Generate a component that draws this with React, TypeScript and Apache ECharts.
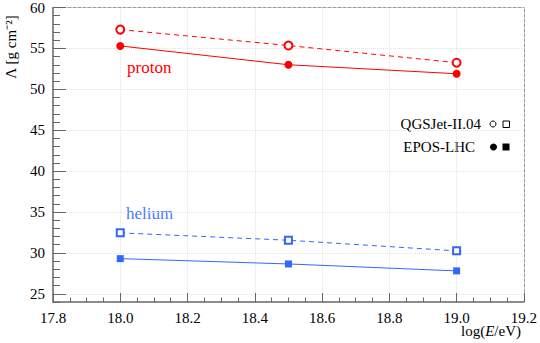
import React, { useEffect, useRef } from 'react';
import * as echarts from 'echarts';

const energies = [18.0, 18.5, 19.0];
const protonQGSJet = [57.3, 55.35, 53.25];
const protonEPOS = [55.3, 53.0, 51.9];
const heliumQGSJet = [32.45, 31.55, 30.25];
const heliumEPOS = [29.3, 28.65, 27.8];
const yMajorTicks = [25, 30, 35, 40, 45, 50, 55, 60];

const RED = '#ff0000';
const BLUE = '#3366ff';
const AXIS = '#666666';
const FRAME = '#999999';
const GRID = '#e2e2e2';
const FONT = 'Liberation Serif';

function pairs(ys: number[]) {
  return energies.map((x, i) => [x, ys[i]]);
}

export default function App() {
  const ref = useRef<HTMLDivElement>(null);
  useEffect(() => {
    if (!ref.current) return;
    const chart = echarts.init(ref.current, undefined, { renderer: 'svg' });
    const openSeries = (name: string, ys: number[], color: string, symbol: string, size: number) => ({
      name,
      type: 'line',
      data: pairs(ys),
      xAxisIndex: 0,
      yAxisIndex: 0,
      symbol,
      symbolSize: size,
      showAllSymbol: true,
      itemStyle: { color: '#ffffff', borderColor: color, borderWidth: 2 },
      lineStyle: { color, width: 1, type: [5, 4] },
      z: 3,
    });
    const filledSeries = (name: string, ys: number[], color: string, symbol: string, size: number) => ({
      name,
      type: 'line',
      data: pairs(ys),
      xAxisIndex: 0,
      yAxisIndex: 0,
      symbol,
      symbolSize: size,
      showAllSymbol: true,
      itemStyle: { color, borderWidth: 0 },
      lineStyle: { color, width: 1, type: 'solid' },
      z: 3,
    });
    const txt = (text: string, x: number, y: number, fill: string, size: number, align: string) => ({
      type: 'text',
      x,
      y,
      style: { text, fill, fontFamily: FONT, fontSize: size, align, verticalAlign: 'middle' },
    });
    chart.setOption({
      animation: false,
      backgroundColor: '#ffffff',
      textStyle: { fontFamily: FONT },
      grid: { left: 53, right: 13, top: 5, bottom: 41, containLabel: false },
      xAxis: [
        {
          type: 'value',
          position: 'bottom',
          min: 17.8,
          max: 19.2,
          interval: 0.2,
          axisLine: { show: true, onZero: false, lineStyle: { color: AXIS, width: 1.5 } },
          axisTick: { show: true, inside: true, length: 9, lineStyle: { color: AXIS, width: 1 } },
          minorTick: { show: true, splitNumber: 4, length: 4.5, lineStyle: { color: AXIS, width: 1 } },
          axisLabel: {
            show: true,
            margin: 8,
            color: '#000',
            fontFamily: FONT,
            fontSize: 15,
            formatter: (v: number) => v.toFixed(1),
          },
          splitLine: { show: true, lineStyle: { color: GRID, type: 'dotted', width: 1 } },
        },
        {
          type: 'value',
          position: 'top',
          min: 17.8,
          max: 19.2,
          axisLine: { show: true, onZero: false, lineStyle: { color: FRAME, width: 1, type: [3, 2] } },
          axisTick: { show: false },
          axisLabel: { show: false },
          splitLine: { show: false },
        },
      ],
      yAxis: [
        {
          type: 'value',
          position: 'left',
          min: 24,
          max: 60,
          axisLine: { show: true, onZero: false, lineStyle: { color: AXIS, width: 1.5 } },
          axisTick: { show: true, inside: true, length: 13, customValues: yMajorTicks, lineStyle: { color: AXIS, width: 1 } },
          axisLabel: {
            show: true,
            customValues: yMajorTicks,
            margin: 8,
            color: '#000',
            fontFamily: FONT,
            fontSize: 15,
          },
          splitLine: { show: true, lineStyle: { color: GRID, type: 'dotted', width: 1 } },
        },
        {
          type: 'value',
          position: 'left',
          offset: 0,
          min: 24,
          max: 60,
          interval: 1,
          axisLine: { show: false, onZero: false },
          axisTick: { show: true, inside: true, length: 7, lineStyle: { color: AXIS, width: 1 } },
          axisLabel: { show: false },
          splitLine: { show: false },
        },
        {
          type: 'value',
          position: 'right',
          min: 24,
          max: 60,
          axisLine: { show: true, onZero: false, lineStyle: { color: FRAME, width: 1, type: [3, 2] } },
          axisTick: { show: false },
          axisLabel: { show: false },
          splitLine: { show: false },
        },
      ],
      series: [
        openSeries('proton QGSJet-II.04', protonQGSJet, RED, 'circle', 8),
        filledSeries('proton EPOS-LHC', protonEPOS, RED, 'circle', 8),
        openSeries('helium QGSJet-II.04', heliumQGSJet, BLUE, 'rect', 7),
        filledSeries('helium EPOS-LHC', heliumEPOS, BLUE, 'rect', 7),
      ],
      graphic: [
        txt('proton', 127, 67, RED, 17, 'left'),
        txt('helium', 126, 213, '#4a7bff', 17, 'left'),
        txt('QGSJet-II.04', 481, 124, '#000', 15, 'right'),
        {
          type: 'circle',
          shape: { cx: 493, cy: 124, r: 3 },
          style: { fill: '#fff', stroke: '#000', lineWidth: 1 },
        },
        {
          type: 'rect',
          shape: { x: 503, y: 121, width: 6.5, height: 6.5 },
          style: { fill: '#fff', stroke: '#000', lineWidth: 1 },
        },
        txt('EPOS-LHC', 475, 147, '#000', 15, 'right'),
        {
          type: 'circle',
          shape: { cx: 493.5, cy: 147, r: 3.5 },
          style: { fill: '#000' },
        },
        {
          type: 'rect',
          shape: { x: 502.5, y: 143.5, width: 7, height: 7 },
          style: { fill: '#000' },
        },
        {
          type: 'text',
          x: 521,
          y: 331,
          style: {
            text: '{n|log(}{i|E}{n|/eV)}',
            align: 'right',
            verticalAlign: 'middle',
            rich: {
              n: { fontFamily: FONT, fontSize: 15, fill: '#000' },
              i: { fontFamily: FONT, fontSize: 15, fontStyle: 'italic', fill: '#000' },
            },
          },
        },
        {
          type: 'text',
          x: 11,
          y: 47,
          rotation: Math.PI / 2,
          style: {
            text: 'Λ [g cm⁻²]',
            fill: '#000',
            fontFamily: FONT,
            fontSize: 15,
            align: 'center',
            verticalAlign: 'middle',
          },
        },
      ],
    });
    return () => chart.dispose();
  }, []);
  return <div ref={ref} style={{ width: 540, height: 343, position: 'absolute', left: 0, top: 0 }} />;
}
